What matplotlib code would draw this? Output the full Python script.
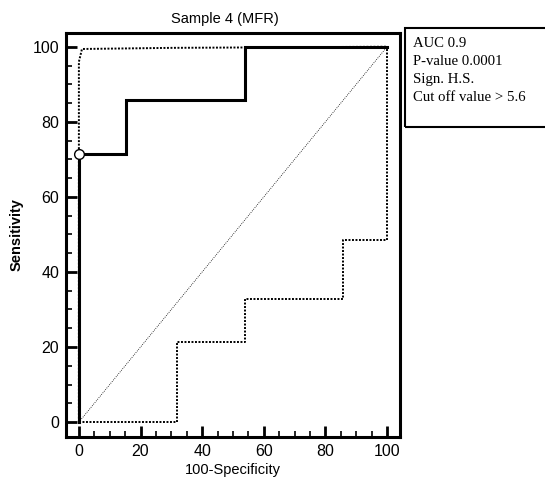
import matplotlib.pyplot as plt
from matplotlib.patches import Rectangle
from matplotlib.ticker import MultipleLocator

# ROC curve (step) and its confidence bounds
roc_x = [0, 0, 15.4, 15.4, 53.8, 53.8, 100]
roc_y = [0, 71.4, 71.4, 85.7, 85.7, 100, 100]

upper_x = [0, 0, 1, 30, 100]
upper_y = [0, 96, 99.4, 99.7, 100]

lower_x = [0, 31.8, 31.8, 53.8, 53.8, 85.7, 85.7, 100, 100]
lower_y = [0, 0, 21.4, 21.4, 32.9, 32.9, 48.5, 48.5, 100]

cutoff = (0, 71.4)

stats_lines = ["AUC 0.9", "P-value 0.0001", "Sign. H.S.", "Cut off value > 5.6"]

plt.rcParams['font.family'] = ['Liberation Sans', 'DejaVu Sans']

fig = plt.figure(figsize=(5.45, 4.83), dpi=100)
ax = fig.add_axes([0.121, 0.095, 0.613, 0.837])

ax.plot([0, 100], [0, 100], color='k', lw=0.6, ls=(0, (1, 1.5)))
ax.plot(upper_x, upper_y, color='k', lw=1.4, ls=(0, (1, 0.8)))
ax.plot(lower_x, lower_y, color='k', lw=1.4, ls=(0, (1, 0.8)))
ax.plot(roc_x, roc_y, color='k', lw=2.2, solid_joinstyle='miter')
ax.plot(*cutoff, 'o', ms=7, mfc='white', mec='k', mew=1, zorder=5, clip_on=False)

ax.set_xlim(-4.2, 104.2)
ax.set_ylim(-4, 103.7)
ax.xaxis.set_major_locator(MultipleLocator(20))
ax.xaxis.set_minor_locator(MultipleLocator(5))
ax.yaxis.set_major_locator(MultipleLocator(20))
ax.yaxis.set_minor_locator(MultipleLocator(5))
ax.tick_params(which='major', direction='in', length=8, width=2, labelsize=11.5, pad=5)
ax.tick_params(which='minor', direction='in', length=4, width=1.2)
for s in ax.spines.values():
    s.set_linewidth(2.2)

ax.set_title("Sample 4 (MFR)", fontsize=10.5, pad=7, x=0.475)
ax.set_xlabel("100-Specificity", fontsize=10.5, labelpad=3)
ax.set_ylabel("Sensitivity", fontsize=10.5, fontweight='bold', labelpad=6)

fig.patches.append(Rectangle((0.743, 0.737), 0.3, 0.205, transform=fig.transFigure,
                             fill=False, ec='k', lw=1.5))
for i, line in enumerate(stats_lines):
    fig.text(0.757, 0.91 - i * 0.037, line, family='Liberation Serif',
             fontsize=10.6, va='center', ha='left')

fig.savefig('out.png', dpi=100)
